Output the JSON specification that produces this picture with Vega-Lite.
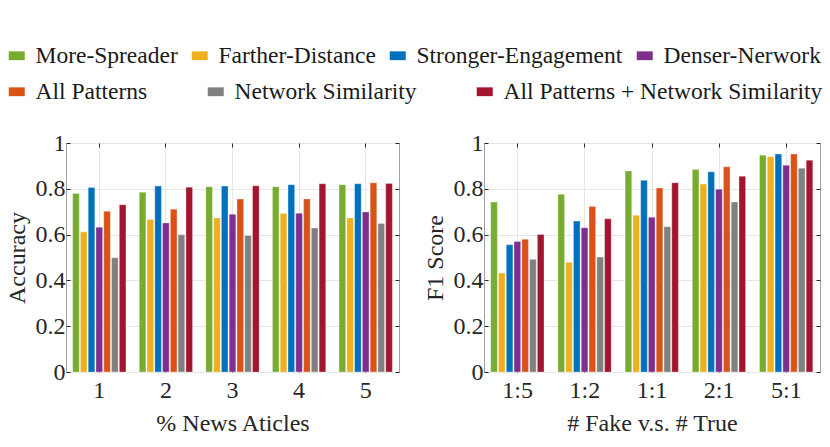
{
  "$schema": "https://vega.github.io/schema/vega-lite/v6.json",
  "bounds": "flush",
  "spacing": 85,
  "padding": {"left": 4, "top": 43, "right": 5, "bottom": 5},
  "config": {
    "font": "Liberation Serif",
    "view": {"stroke": "#a0a0a0", "strokeWidth": 1},
    "text": {"font": "Liberation Serif"},
    "axis": {
      "labelFont": "Liberation Serif", "labelFontSize": 24, "labelColor": "#262626",
      "titleFont": "Liberation Serif", "titleFontSize": 24, "titleFontWeight": "normal", "titleColor": "#262626",
      "gridColor": "#e6e6e6", "gridWidth": 1, "domain": false,
      "tickColor": "#262626", "tickSize": -4, "tickWidth": 1
    },
    "legend": {
      "labelFont": "Liberation Serif", "labelFontSize": 23.5, "labelColor": "#1a1a1a", "labelLimit": 400,
      "symbolType": "M-1,-0.55H1V0.55H-1Z", "symbolSize": 256, "symbolStrokeWidth": 0,
      "labelOffset": 7, "padding": 0, "title": null
    }
  },
  "datasets": {
    "acc": [
      {"group": "1", "series": "More-Spreader", "value": 0.780},
      {"group": "1", "series": "Farther-Distance", "value": 0.612},
      {"group": "1", "series": "Stronger-Engagement", "value": 0.806},
      {"group": "1", "series": "Denser-Nerwork", "value": 0.632},
      {"group": "1", "series": "All Patterns", "value": 0.702},
      {"group": "1", "series": "Network Similarity", "value": 0.499},
      {"group": "1", "series": "All Patterns + Network Similarity", "value": 0.730},
      {"group": "2", "series": "More-Spreader", "value": 0.785},
      {"group": "2", "series": "Farther-Distance", "value": 0.666},
      {"group": "2", "series": "Stronger-Engagement", "value": 0.812},
      {"group": "2", "series": "Denser-Nerwork", "value": 0.651},
      {"group": "2", "series": "All Patterns", "value": 0.711},
      {"group": "2", "series": "Network Similarity", "value": 0.599},
      {"group": "2", "series": "All Patterns + Network Similarity", "value": 0.807},
      {"group": "3", "series": "More-Spreader", "value": 0.809},
      {"group": "3", "series": "Farther-Distance", "value": 0.673},
      {"group": "3", "series": "Stronger-Engagement", "value": 0.812},
      {"group": "3", "series": "Denser-Nerwork", "value": 0.689},
      {"group": "3", "series": "All Patterns", "value": 0.755},
      {"group": "3", "series": "Network Similarity", "value": 0.596},
      {"group": "3", "series": "All Patterns + Network Similarity", "value": 0.813},
      {"group": "4", "series": "More-Spreader", "value": 0.809},
      {"group": "4", "series": "Farther-Distance", "value": 0.692},
      {"group": "4", "series": "Stronger-Engagement", "value": 0.818},
      {"group": "4", "series": "Denser-Nerwork", "value": 0.693},
      {"group": "4", "series": "All Patterns", "value": 0.756},
      {"group": "4", "series": "Network Similarity", "value": 0.629},
      {"group": "4", "series": "All Patterns + Network Similarity", "value": 0.822},
      {"group": "5", "series": "More-Spreader", "value": 0.818},
      {"group": "5", "series": "Farther-Distance", "value": 0.673},
      {"group": "5", "series": "Stronger-Engagement", "value": 0.822},
      {"group": "5", "series": "Denser-Nerwork", "value": 0.699},
      {"group": "5", "series": "All Patterns", "value": 0.826},
      {"group": "5", "series": "Network Similarity", "value": 0.648},
      {"group": "5", "series": "All Patterns + Network Similarity", "value": 0.823}
    ],
    "f1": [
      {"group": "1:5", "series": "More-Spreader", "value": 0.742},
      {"group": "1:5", "series": "Farther-Distance", "value": 0.432},
      {"group": "1:5", "series": "Stronger-Engagement", "value": 0.556},
      {"group": "1:5", "series": "Denser-Nerwork", "value": 0.570},
      {"group": "1:5", "series": "All Patterns", "value": 0.580},
      {"group": "1:5", "series": "Network Similarity", "value": 0.492},
      {"group": "1:5", "series": "All Patterns + Network Similarity", "value": 0.600},
      {"group": "1:2", "series": "More-Spreader", "value": 0.776},
      {"group": "1:2", "series": "Farther-Distance", "value": 0.479},
      {"group": "1:2", "series": "Stronger-Engagement", "value": 0.659},
      {"group": "1:2", "series": "Denser-Nerwork", "value": 0.630},
      {"group": "1:2", "series": "All Patterns", "value": 0.723},
      {"group": "1:2", "series": "Network Similarity", "value": 0.502},
      {"group": "1:2", "series": "All Patterns + Network Similarity", "value": 0.669},
      {"group": "1:1", "series": "More-Spreader", "value": 0.878},
      {"group": "1:1", "series": "Farther-Distance", "value": 0.685},
      {"group": "1:1", "series": "Stronger-Engagement", "value": 0.837},
      {"group": "1:1", "series": "Denser-Nerwork", "value": 0.676},
      {"group": "1:1", "series": "All Patterns", "value": 0.804},
      {"group": "1:1", "series": "Network Similarity", "value": 0.634},
      {"group": "1:1", "series": "All Patterns + Network Similarity", "value": 0.826},
      {"group": "2:1", "series": "More-Spreader", "value": 0.884},
      {"group": "2:1", "series": "Farther-Distance", "value": 0.821},
      {"group": "2:1", "series": "Stronger-Engagement", "value": 0.874},
      {"group": "2:1", "series": "Denser-Nerwork", "value": 0.798},
      {"group": "2:1", "series": "All Patterns", "value": 0.896},
      {"group": "2:1", "series": "Network Similarity", "value": 0.742},
      {"group": "2:1", "series": "All Patterns + Network Similarity", "value": 0.855},
      {"group": "5:1", "series": "More-Spreader", "value": 0.947},
      {"group": "5:1", "series": "Farther-Distance", "value": 0.940},
      {"group": "5:1", "series": "Stronger-Engagement", "value": 0.952},
      {"group": "5:1", "series": "Denser-Nerwork", "value": 0.903},
      {"group": "5:1", "series": "All Patterns", "value": 0.952},
      {"group": "5:1", "series": "Network Similarity", "value": 0.890},
      {"group": "5:1", "series": "All Patterns + Network Similarity", "value": 0.925}
    ]
  },
  "hconcat": [
    {
      "width": 333, "height": 229,
      "data": {"name": "acc"},
      "layer": [
        {
          "transform": [{"filter": {"field": "series", "oneOf": ["More-Spreader", "Farther-Distance", "Stronger-Engagement", "Denser-Nerwork"]}}],
          "mark": {"type": "bar", "stroke": "#ffffff", "strokeOpacity": 0.6, "strokeWidth": 0.5},
          "encoding": {
            "x": {"field": "group", "type": "nominal", "sort": null, "scale": {"paddingInner": 0.2, "paddingOuter": 0.1},
                  "axis": {"title": "% News Aticles", "labelAngle": 0, "grid": true, "bandPosition": 0.5, "labelPadding": 10, "titlePadding": 9}},
            "xOffset": {"field": "series", "type": "nominal", "scale": {"domain": ["More-Spreader", "Farther-Distance", "Stronger-Engagement", "Denser-Nerwork", "All Patterns", "Network Similarity", "All Patterns + Network Similarity"], "paddingInner": 0.15}},
            "y": {"field": "value", "type": "quantitative", "scale": {"domain": [0, 1], "nice": false},
                  "axis": {"title": "Accuracy", "values": [0, 0.2, 0.4, 0.6, 0.8, 1], "format": ".1~f", "grid": true, "labelPadding": 5, "titlePadding": 6}},
            "color": {"field": "series", "type": "nominal",
                      "scale": {"domain": ["More-Spreader", "Farther-Distance", "Stronger-Engagement", "Denser-Nerwork"], "range": ["#77AC30", "#EDB120", "#0072BD", "#7E2F8E"]},
                      "legend": {"orient": "none", "direction": "horizontal", "columns": 4, "gridAlign": "none", "columnPadding": 10, "legendX": -61, "legendY": -99,
                                 "labelFont": "Liberation Serif", "labelFontSize": 23.5}}
          }
        },
        {
          "transform": [{"filter": {"field": "series", "oneOf": ["All Patterns", "Network Similarity", "All Patterns + Network Similarity"]}}],
          "mark": {"type": "bar", "stroke": "#ffffff", "strokeOpacity": 0.6, "strokeWidth": 0.5},
          "encoding": {
            "x": {"field": "group", "type": "nominal", "sort": null, "scale": {"paddingInner": 0.2, "paddingOuter": 0.1},
                  "axis": {"orient": "top", "title": null, "labels": false, "grid": false, "bandPosition": 0.5}},
            "xOffset": {"field": "series", "type": "nominal", "scale": {"domain": ["More-Spreader", "Farther-Distance", "Stronger-Engagement", "Denser-Nerwork", "All Patterns", "Network Similarity", "All Patterns + Network Similarity"], "paddingInner": 0.15}},
            "y": {"field": "value", "type": "quantitative", "scale": {"domain": [0, 1], "nice": false},
                  "axis": {"orient": "right", "title": null, "labels": false, "grid": false, "values": [0, 0.2, 0.4, 0.6, 0.8, 1]}},
            "color": {"field": "series", "type": "nominal",
                      "scale": {"domain": ["All Patterns", "Network Similarity", "All Patterns + Network Similarity"], "range": ["#D95319", "#808080", "#A2142F"]},
                      "legend": {"orient": "none", "direction": "horizontal", "columns": 3, "gridAlign": "none", "columnPadding": 56, "legendX": -61, "legendY": -63,
                                 "labelFont": "Liberation Serif", "labelFontSize": 23.5}}
          }
        }
      ],
      "resolve": {"scale": {"color": "independent"}, "legend": {"color": "independent"}, "axis": {"x": "independent", "y": "independent"}}
    },
    {
      "width": 336, "height": 229,
      "data": {"name": "f1"},
      "layer": [
        {
          "transform": [{"filter": {"field": "series", "oneOf": ["More-Spreader", "Farther-Distance", "Stronger-Engagement", "Denser-Nerwork"]}}],
          "mark": {"type": "bar", "stroke": "#ffffff", "strokeOpacity": 0.6, "strokeWidth": 0.5},
          "encoding": {
            "x": {"field": "group", "type": "nominal", "sort": null, "scale": {"paddingInner": 0.2, "paddingOuter": 0.1},
                  "axis": {"title": "# Fake v.s. # True", "labelAngle": 0, "grid": true, "bandPosition": 0.5, "labelPadding": 10, "titlePadding": 9}},
            "xOffset": {"field": "series", "type": "nominal", "scale": {"domain": ["More-Spreader", "Farther-Distance", "Stronger-Engagement", "Denser-Nerwork", "All Patterns", "Network Similarity", "All Patterns + Network Similarity"], "paddingInner": 0.15}},
            "y": {"field": "value", "type": "quantitative", "scale": {"domain": [0, 1], "nice": false},
                  "axis": {"title": "F1 Score", "values": [0, 0.2, 0.4, 0.6, 0.8, 1], "format": ".1~f", "grid": true, "labelPadding": 5, "titlePadding": 6}},
            "color": {"field": "series", "type": "nominal",
                      "scale": {"domain": ["More-Spreader", "Farther-Distance", "Stronger-Engagement", "Denser-Nerwork"], "range": ["#77AC30", "#EDB120", "#0072BD", "#7E2F8E"]},
                      "legend": null}
          }
        },
        {
          "transform": [{"filter": {"field": "series", "oneOf": ["All Patterns", "Network Similarity", "All Patterns + Network Similarity"]}}],
          "mark": {"type": "bar", "stroke": "#ffffff", "strokeOpacity": 0.6, "strokeWidth": 0.5},
          "encoding": {
            "x": {"field": "group", "type": "nominal", "sort": null, "scale": {"paddingInner": 0.2, "paddingOuter": 0.1},
                  "axis": {"orient": "top", "title": null, "labels": false, "grid": false, "bandPosition": 0.5}},
            "xOffset": {"field": "series", "type": "nominal", "scale": {"domain": ["More-Spreader", "Farther-Distance", "Stronger-Engagement", "Denser-Nerwork", "All Patterns", "Network Similarity", "All Patterns + Network Similarity"], "paddingInner": 0.15}},
            "y": {"field": "value", "type": "quantitative", "scale": {"domain": [0, 1], "nice": false},
                  "axis": {"orient": "right", "title": null, "labels": false, "grid": false, "values": [0, 0.2, 0.4, 0.6, 0.8, 1]}},
            "color": {"field": "series", "type": "nominal",
                      "scale": {"domain": ["All Patterns", "Network Similarity", "All Patterns + Network Similarity"], "range": ["#D95319", "#808080", "#A2142F"]},
                      "legend": null}
          }
        }
      ],
      "resolve": {"scale": {"color": "independent"}, "legend": {"color": "independent"}, "axis": {"x": "independent", "y": "independent"}}
    }
  ],
  "resolve": {"scale": {"color": "independent"}, "legend": {"color": "independent"}}
}
